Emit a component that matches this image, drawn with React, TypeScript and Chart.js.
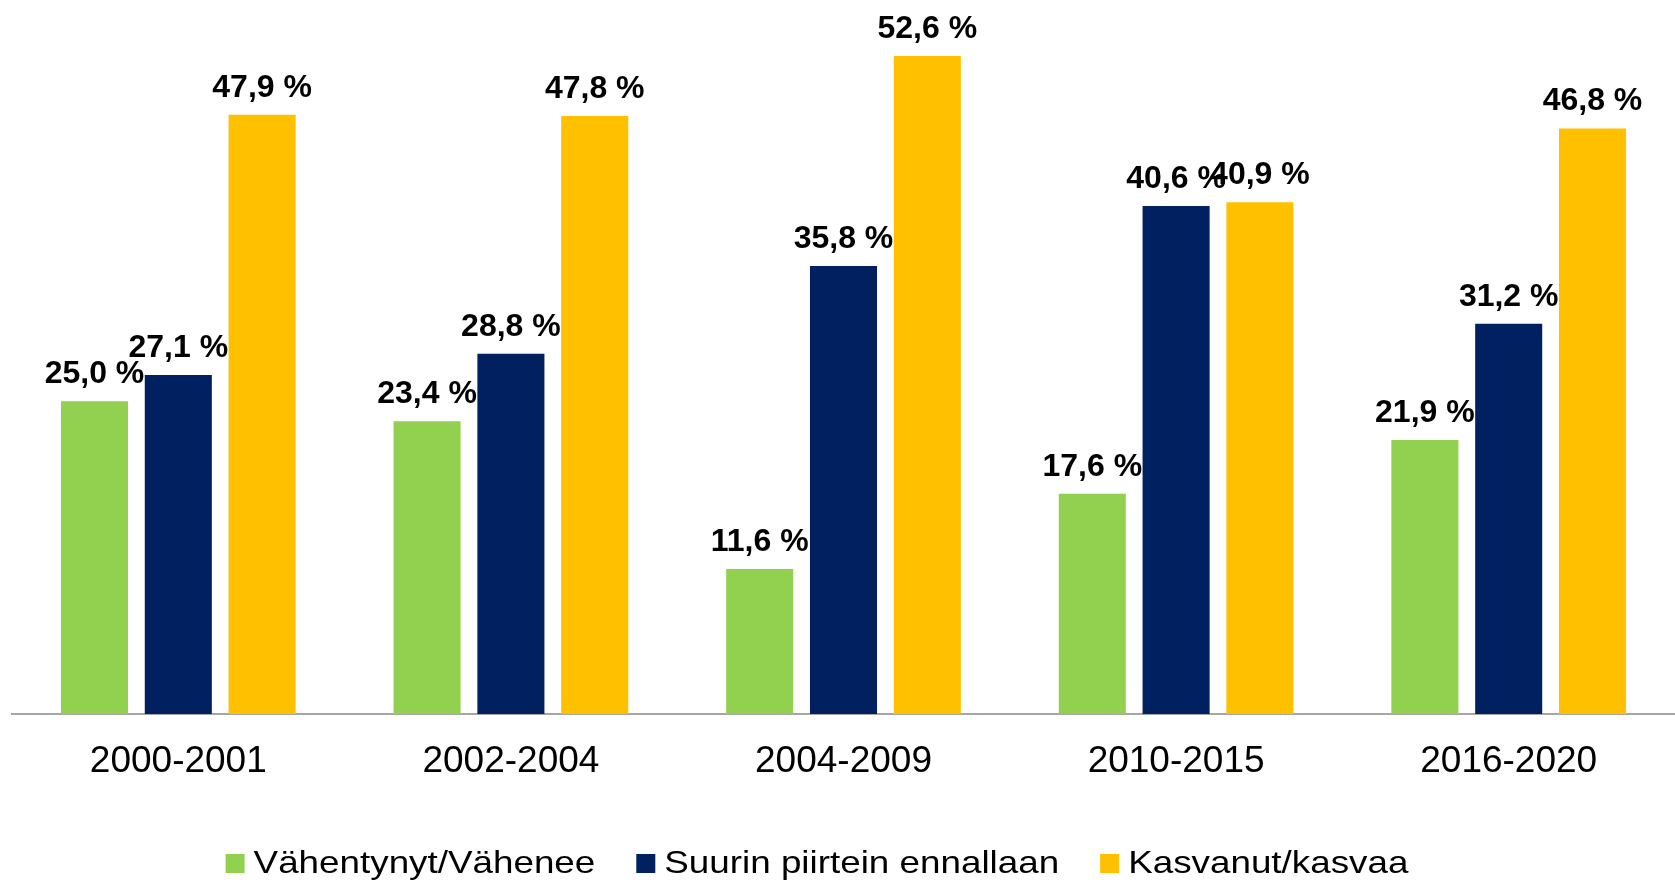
import React, { useEffect, useRef } from "react";
import { Chart, registerables } from "chart.js";

Chart.register(...registerables);

const categories = ["2000-2001", "2002-2004", "2004-2009", "2010-2015", "2016-2020"];
const seriesNames = ["Vähentynyt/Vähenee", "Suurin piirtein ennallaan", "Kasvanut/kasvaa"];
const decreased = [25.0, 23.4, 11.6, 17.6, 21.9];
const unchanged = [27.1, 28.8, 35.8, 40.6, 31.2];
const increased = [47.9, 47.8, 52.6, 40.9, 46.8];
const colors = ["#92D050", "#002060", "#FFC000"];

const W = 1675;
const H = 884;
const FONT = "'Liberation Sans', Arial, Helvetica, sans-serif";

const fmt = (v: number) => v.toFixed(1).replace(".", ",") + " %";

const valueLabels = {
  id: "valueLabels",
  afterDatasetsDraw(chart: any) {
    const ctx = chart.ctx;
    ctx.save();
    ctx.font = `bold 32px ${FONT}`;
    ctx.fillStyle = "#000000";
    ctx.textAlign = "center";
    ctx.textBaseline = "alphabetic";
    chart.data.datasets.forEach((ds: any, i: number) => {
      const meta = chart.getDatasetMeta(i);
      meta.data.forEach((el: any, j: number) => {
        ctx.fillText(fmt(ds.data[j]), el.x, el.y - 18);
      });
    });
    ctx.restore();
  },
};

const customLegend = {
  id: "customLegend",
  afterDraw(chart: any) {
    const ctx = chart.ctx;
    const stretch = 1.15;
    const box = 19;
    const boxGap = 9;
    const itemGap = 41;
    const baseline = 873;
    ctx.save();
    ctx.font = `32px ${FONT}`;
    const items = chart.data.datasets.map((ds: any) => ({
      label: ds.label,
      color: ds.backgroundColor,
      tw: ctx.measureText(ds.label).width * stretch,
    }));
    const total =
      items.reduce((s: number, it: any) => s + box + boxGap + it.tw, 0) + itemGap * (items.length - 1);
    let x = 817 - total / 2;
    items.forEach((it: any) => {
      ctx.fillStyle = it.color;
      ctx.fillRect(x, baseline - box, box, box);
      x += box + boxGap;
      ctx.save();
      ctx.translate(x, baseline);
      ctx.scale(stretch, 1);
      ctx.fillStyle = "#000000";
      ctx.textAlign = "left";
      ctx.textBaseline = "alphabetic";
      ctx.fillText(it.label, 0, 0);
      ctx.restore();
      x += it.tw + itemGap;
    });
    ctx.restore();
  },
};

export default function App() {
  const ref = useRef<HTMLCanvasElement | null>(null);

  useEffect(() => {
    if (!ref.current) return;
    const chart = new Chart(ref.current, {
      type: "bar",
      data: {
        labels: categories,
        datasets: [
          { label: seriesNames[0], data: decreased, backgroundColor: colors[0] },
          { label: seriesNames[1], data: unchanged, backgroundColor: colors[1] },
          { label: seriesNames[2], data: increased, backgroundColor: colors[2] },
        ],
      },
      options: {
        responsive: false,
        animation: false,
        layout: { padding: { left: 12, right: 0, top: 13.4, bottom: 0 } },
        datasets: {
          bar: { categoryPercentage: 0.756, barPercentage: 0.8, borderWidth: 0 },
        },
        plugins: {
          legend: { display: false },
          tooltip: { enabled: false },
        },
        scales: {
          x: {
            grid: { display: false, drawTicks: false },
            border: { display: true, color: "#A6A6A6", width: 2 },
            ticks: {
              color: "#000000",
              font: { family: FONT, size: 37 },
              padding: 26,
              maxRotation: 0,
              autoSkip: false,
            },
            afterFit: (scale: any) => {
              scale.height = 170;
            },
          },
          y: {
            display: false,
            min: 0,
            max: 56,
          },
        },
      },
      plugins: [valueLabels, customLegend],
    });
    return () => chart.destroy();
  }, []);

  return (
    <div style={{ position: "fixed", left: 0, top: 0, width: W, height: H, background: "#fff" }}>
      <canvas ref={ref} width={W} height={H} style={{ display: "block", width: W, height: H }} />
    </div>
  );
}
